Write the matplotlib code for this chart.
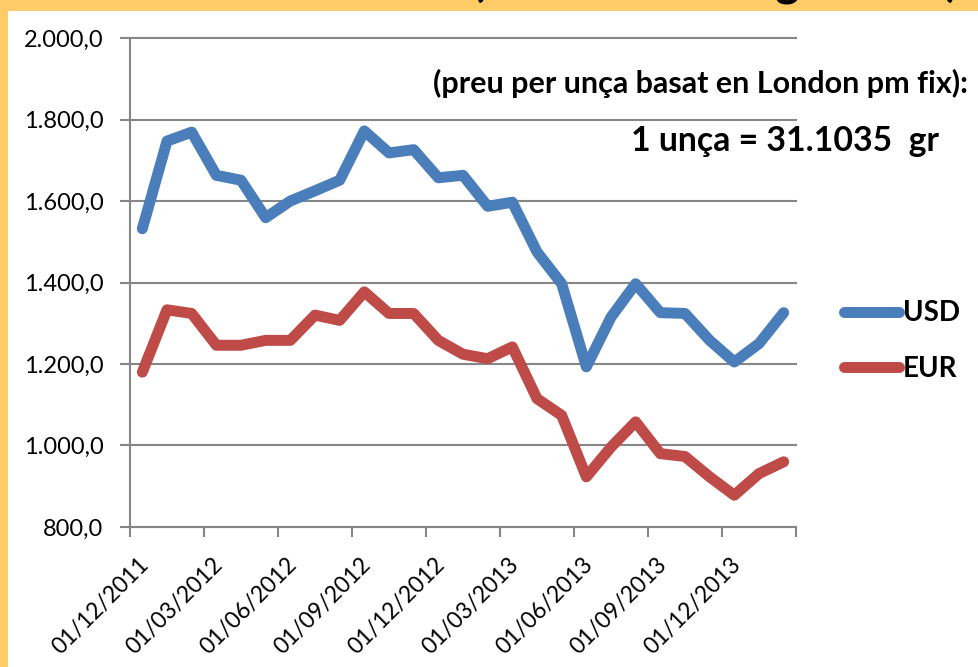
import matplotlib
matplotlib.use('Agg')
import matplotlib.pyplot as plt
from matplotlib.patches import Rectangle
from matplotlib.ticker import FuncFormatter
from matplotlib.font_manager import FontProperties
import matplotlib.transforms as mtransforms
import numpy as np

plt.rcParams['font.family'] = ['Lato', 'DejaVu Sans']

# ---- data (monthly, Dec 2011 .. Feb 2014) ----
months = ['12/2011', '01/2012', '02/2012', '03/2012', '04/2012', '05/2012', '06/2012',
          '07/2012', '08/2012', '09/2012', '10/2012', '11/2012', '12/2012', '01/2013',
          '02/2013', '03/2013', '04/2013', '05/2013', '06/2013', '07/2013', '08/2013',
          '09/2013', '10/2013', '11/2013', '12/2013', '01/2014', '02/2014']
usd = [1532, 1747, 1769, 1663, 1651, 1559, 1600, 1625, 1651, 1772, 1718, 1726, 1657, 1663,
       1587, 1597, 1475, 1397, 1193, 1315, 1397, 1326, 1324, 1258, 1205, 1250, 1326]
eur = [1180, 1333, 1324, 1246, 1246, 1258, 1258, 1320, 1307, 1377, 1324, 1324, 1258, 1224,
       1213, 1242, 1115, 1074, 923, 996, 1058, 980, 973, 923, 878, 931, 960]
x_tick_labels = ['01/12/2011', '01/03/2012', '01/06/2012', '01/09/2012', '01/12/2012',
                 '01/03/2013', '01/06/2013', '01/09/2013', '01/12/2013', '']
y_ticks = [800, 1000, 1200, 1400, 1600, 1800, 2000]
series_names = ['USD', 'EUR']
title_paren = "(USD i EUR en gr d'or fi)"
subtitle = '(preu per unça basat en London pm fix):'
note = '1 unça = 31.1035  gr'

W, H = 979, 667
fig = plt.figure(figsize=(W / 100, H / 100), dpi=100)
fig.patch.set_facecolor('white')

band = '#FFCB66'
fig.patches.append(Rectangle((0, 1 - 11 / H), 1, 11 / H, transform=fig.transFigure,
                             facecolor=band, edgecolor='none', zorder=0))
fig.patches.append(Rectangle((0, 0), 8 / W, 1, transform=fig.transFigure,
                             facecolor=band, edgecolor='none', zorder=0))

# title (cut off by the top edge, as in the original slide)
fig.text(472 / W, 1 + 4 / H, title_paren, ha='left', va='baseline',
         fontsize=33, fontweight='bold', color='black')

ax = fig.add_axes([130 / W, 1 - 527 / H, (796 - 130) / W, (527 - 38) / H])
ax.set_facecolor('white')
x = np.arange(len(usd)) + 0.5
colors = ['#4A7EBB', '#BE4B48']
for vals, name, c in zip([usd, eur], series_names, colors):
    ax.plot(x, vals, color=c, lw=7.9, solid_capstyle='round', solid_joinstyle='round',
            label=name, zorder=3)

ax.set_xlim(0, len(usd))
ax.set_ylim(800, 2000)
ax.set_yticks(y_ticks)


def fmt(v, p):
    s = f"{v:,.1f}"
    return s.replace(',', 'X').replace('.', ',').replace('X', '.')


ax.yaxis.set_major_formatter(FuncFormatter(fmt))
ax.grid(axis='y', color='#868686', lw=1.5)
for gl in ax.get_ygridlines():
    gl.set_clip_on(False)
ax.set_axisbelow(True)
for s in ['top', 'right']:
    ax.spines[s].set_visible(False)
for s in ['left', 'bottom']:
    ax.spines[s].set_color('#868686')
    ax.spines[s].set_linewidth(1.5)
ax.tick_params(axis='y', length=7, width=1.5, color='#868686', pad=12, labelsize=17,
               labelcolor='black')
xt = np.arange(0, len(usd) + 1, 3)
ax.set_xticks(xt)
ax.set_xticklabels([])
ax.tick_params(axis='x', length=7, width=1.5, color='#868686')

offset = mtransforms.ScaledTranslation(8 / 100, -27 / 100, fig.dpi_scale_trans)
trans = mtransforms.blended_transform_factory(ax.transData, ax.transAxes) + offset
for t, lab in zip(xt, x_tick_labels):
    ax.text(t, 0, lab, transform=trans, rotation=45, rotation_mode='anchor',
            ha='right', va='top', fontsize=16.5, color='black', clip_on=False)

leg = ax.legend(loc='center left', bbox_to_anchor=(844 / W, 1 - 341 / H),
                bbox_transform=fig.transFigure, frameon=False,
                prop=FontProperties(family='Lato', weight='bold', size=20),
                handlelength=1.98, handletextpad=0.15, borderpad=0, borderaxespad=0,
                labelspacing=1.05)

fig.text(701 / W, 1 - 93 / H, subtitle, ha='center', va='baseline', fontsize=22,
         fontweight='bold', color='black')
fig.text(785 / W, 1 - 151 / H, note, ha='center', va='baseline', fontsize=24.3,
         fontweight='bold', color='black')

fig.savefig('out.png', dpi=100, facecolor='white')
